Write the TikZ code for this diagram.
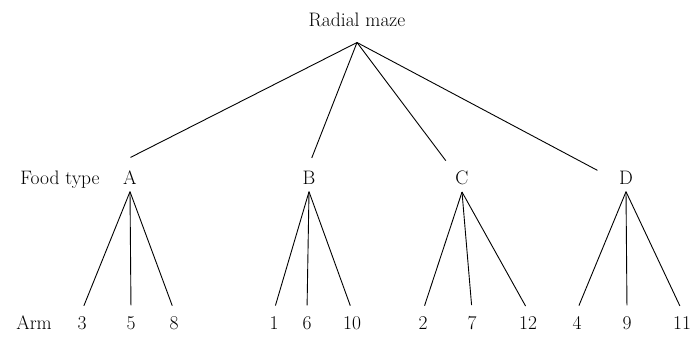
\documentclass[tikz,border=0pt]{standalone}
\usepackage{fontspec}
\usepackage{tikz}
\usetikzlibrary{positioning}

\begin{document}
\begin{tikzpicture}[x=1pt, y=1pt, font=\fontsize{19.5}{23}\selectfont,
    lbl/.style={anchor=base, inner sep=6.5pt},
    branch/.style={line width=0.9pt}]
    \useasboundingbox (0,0) rectangle (693,339);

    % Root
    \node[lbl] (top) at (357,312) {Radial maze};
    \coordinate (hub) at ([yshift=-8.5pt]top.south);

    % Food types
    \node[lbl] (food) at (60,154) {Food type};
    \node[lbl] (A) at (130,154) {A};
    \node[lbl] (B) at (309,154) {B};
    \node[lbl] (C) at (462,154) {C};
    \node[lbl] (D) at (626,154) {D};

    % Arms
    \node[lbl] (arm) at (34,9) {Arm};
    \foreach \n/\x in {3/82, 5/131, 8/174, 1/274, 6/307, 10/352,
                       2/423, 7/472, 12/528, 4/577, 9/627, 11/682}
        \node[lbl] (arm\n) at (\x,9) {\n};

    % Maze to food types
    \draw[branch, shorten >=15.7pt] (hub) -- (A.north west);
    \draw[branch, shorten >=7.5pt] (hub) -- (B.north);
    \draw[branch, shorten >=5pt] (hub) -- (C.north west);
    \draw[branch, shorten >=17pt] (hub) -- (D.west);

    % Food types to arms
    \foreach \f/\a in {A/3, A/5, A/8, B/1, B/6, B/10,
                       C/2, C/7, C/12, D/4, D/9, D/11}
        \draw[branch, shorten >=5pt] (\f.south) -- (arm\a.north);
\end{tikzpicture}
\end{document}
